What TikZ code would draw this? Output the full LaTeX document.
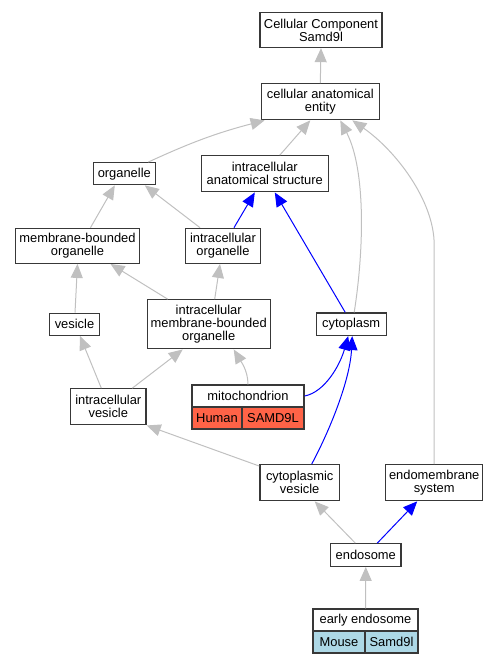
\documentclass[tikz,border=0pt]{standalone}
\usepackage{fontspec}
\setmainfont{Liberation Sans}
\usetikzlibrary{arrows.meta}
\definecolor{edgegray}{HTML}{C0C0C0}
\definecolor{boxline}{HTML}{383838}
\definecolor{tomatored}{HTML}{FF6347}
\definecolor{lblue}{HTML}{ADD8E6}
\tikzset{
  term/.style={draw=boxline, line width=1.3pt, fill=white, align=center, inner sep=0pt,
    font=\fontsize{12.9}{13}\selectfont},
  gedge/.style={draw=edgegray, line width=1pt, -{Triangle[length=14pt,width=12pt]}},
  bedge/.style={draw=blue, line width=1pt, -{Triangle[length=14pt,width=12pt]}},
}
\begin{document}
\begin{tikzpicture}[x=1pt,y=-1pt]
\useasboundingbox (0,0) rectangle (500,664);
% nodes
\node[term, minimum width=122pt, minimum height=35pt] (cc) at (321,30) {Cellular Component\\Samd9l};
\node[term, minimum width=118pt, minimum height=36pt] (cae) at (320.3,101.7) {cellular anatomical\\entity};
\node[term, minimum width=62pt, minimum height=22pt] (org) at (124.3,173.7) {organelle};
\node[term, minimum width=127pt, minimum height=36pt] (ias) at (264.8,173.8) {intracellular\\anatomical structure};
\node[term, minimum width=124pt, minimum height=35pt] (mbo) at (77.5,245.8) {membrane-bounded\\organelle};
\node[term, minimum width=75pt, minimum height=35pt] (io) at (223,245.8) {intracellular\\organelle};
\node[term, minimum width=50pt, minimum height=22pt] (ves) at (74.5,324.3) {vesicle};
\node[term, minimum width=123pt, minimum height=49pt] (imbo) at (208.7,324.3) {intracellular\\membrane-bounded\\organelle};
\node[term, minimum width=70pt, minimum height=22.5pt] (cyto) at (351.2,324.2) {cytoplasm};
\node[term, minimum width=75.5pt, minimum height=36pt] (iv) at (108.3,406.8) {intracellular\\vesicle};
\node[term, minimum width=112pt, minimum height=22pt] (mito) at (248,396) {mitochondrion};
\node[term, fill=tomatored, minimum width=50pt, minimum height=22pt] (mitoH) at (217,418) {Human};
\node[term, fill=tomatored, minimum width=62pt, minimum height=22pt] (mitoS) at (273,418) {SAMD9L};
\node[term, minimum width=79.5pt, minimum height=36pt] (cv) at (299.7,482.7) {cytoplasmic\\vesicle};
\node[term, minimum width=97pt, minimum height=36pt] (ems) at (434.2,482.7) {endomembrane\\system};
\node[term, minimum width=70.5pt, minimum height=22.5pt] (endo) at (365.8,555) {endosome};
\node[term, minimum width=105pt, minimum height=22pt] (ee) at (365.5,620) {early endosome};
\node[term, fill=lblue, minimum width=52pt, minimum height=22pt] (eeM) at (339,642) {Mouse};
\node[term, fill=lblue, minimum width=53pt, minimum height=22pt] (eeS) at (391.5,642) {Samd9l};
% edges
\draw[gedge] (cae.north) -- (cc.south);
\draw[gedge] ([xshift=24]org.north) to[bend left=5] ([xshift=4]cae.south west);
\draw[gedge] ([xshift=15]ias.north) -- ([xshift=-10]cae.south);
\draw[gedge] ([xshift=3]cyto.north) .. controls (364,250) and (366,170) .. ([xshift=20]cae.south);
\draw[gedge] (ems.north) -- (434.2,245) .. controls (434.2,200) and (395,150) .. ([xshift=32]cae.south);
\draw[gedge] ([xshift=13]mbo.north) -- ([xshift=-9.5]org.south);
\draw[gedge] ([xshift=-23]io.north) -- ([xshift=20.5]org.south);
\draw[bedge] ([xshift=11]io.north) -- ([xshift=-10]ias.south);
\draw[bedge] ([xshift=-6]cyto.north) -- ([xshift=10]ias.south);
\draw[gedge] ([xshift=0.5]ves.north) -- (mbo.south);
\draw[gedge] ([xshift=-41]imbo.north) -- ([xshift=33]mbo.south);
\draw[gedge] ([xshift=6]imbo.north) -- ([xshift=-3]io.south);
\draw[gedge] ([xshift=-7]iv.north) -- ([xshift=5.5]ves.south);
\draw[gedge] ([xshift=24]iv.north) -- ([xshift=-26]imbo.south);
\draw[gedge] (mito.north) .. controls (248,370) and (240,360) .. ([xshift=25]imbo.south);
\draw[bedge] (mito.east) .. controls (325,392) and (340,365) .. ([xshift=-3]cyto.south);
\draw[gedge] ([yshift=-2]cv.north west) -- (iv.south east);
\draw[bedge] ([xshift=12]cv.north) .. controls (330,430) and (350,380) .. ([xshift=1]cyto.south);
\draw[gedge] ([xshift=-10.5]endo.north) -- ([xshift=15]cv.south);
\draw[bedge] ([xshift=11.5]endo.north) -- ([xshift=-17]ems.south);
\draw[gedge] (ee.north) -- (endo.south);
\end{tikzpicture}
\end{document}
